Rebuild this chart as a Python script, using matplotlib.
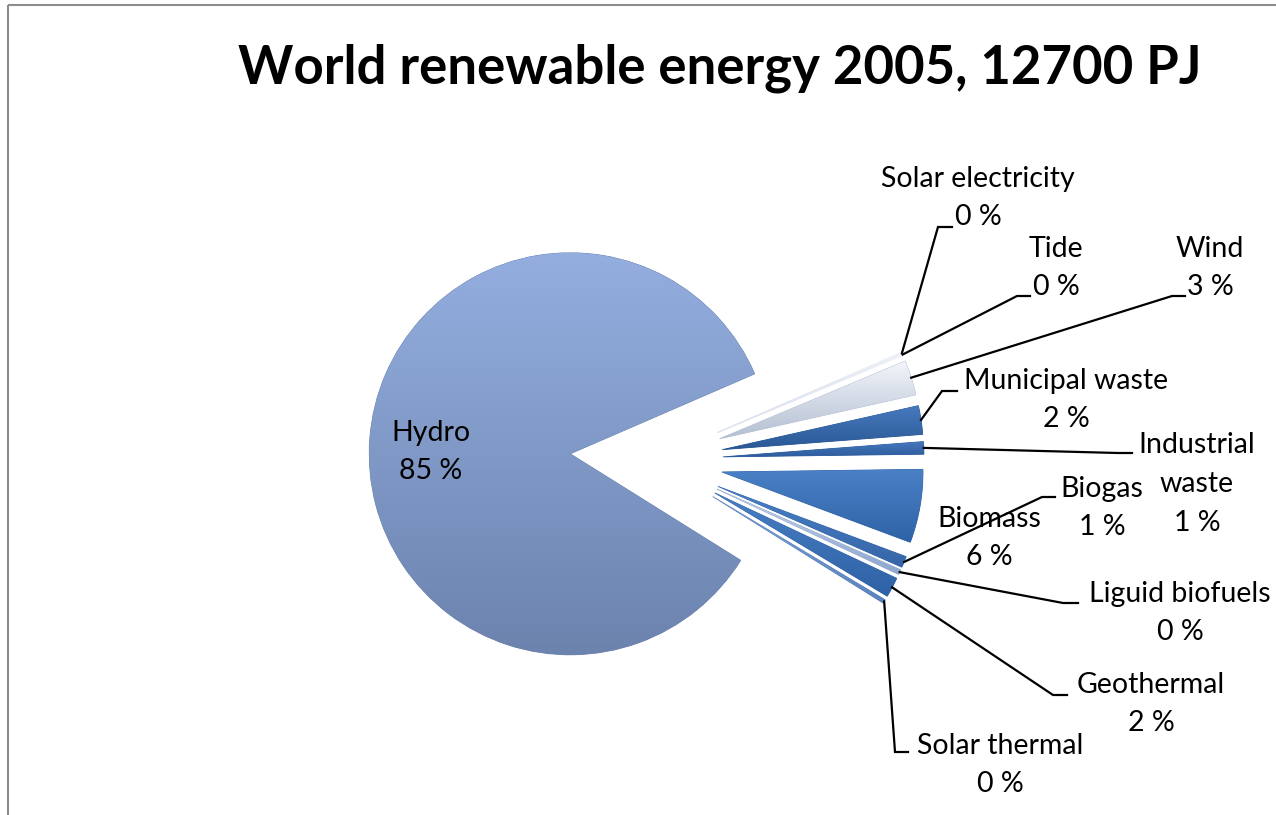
import numpy as np
import matplotlib.pyplot as plt
from matplotlib.patches import Rectangle
from matplotlib.colors import LinearSegmentedColormap

# ==================== Data ====================
categories = ["Hydro", "Solar electricity", "Tide", "Wind", "Municipal waste",
              "Industrial waste", "Biomass", "Biogas", "Liguid biofuels",
              "Geothermal", "Solar thermal"]
shares     = [84.6, 0.1, 0.1, 2.8, 2.3, 1.0, 5.9, 0.9, 0.4, 1.6, 0.3]   # % of 12700 PJ
pct_shown  = [85, 0, 0, 3, 2, 1, 6, 1, 0, 2, 0]
TITLE = "World renewable energy 2005, 12700 PJ"

# ==================== Style / layout ====================
W, H = 1276, 815                 # canvas in pixels, axes use image coords (y down)
CENTER = (653, 460)
RADIUS = 201
START = 32                       # y axis is inverted, so this is -32 deg on screen
EXPLODE = {"Hydro": 83}          # px, everything else uses EXPLODE_SMALL
EXPLODE_SMALL = 70
FONT = "Lato"
LABEL_SIZE = 20.5

colors = {
    "Hydro":             ("#93aedf", "#6c83ae"),
    "Solar electricity": ("#f4f6fa", "#dde3ee"),
    "Tide":              ("#f4f6fa", "#dde3ee"),
    "Wind":              ("#f2f5fa", "#b4bfd2"),
    "Municipal waste":   ("#4679be", "#2a5894"),
    "Industrial waste":  ("#4679be", "#2d5c9c"),
    "Biomass":           ("#4a80c6", "#2f63a7"),
    "Biogas":            ("#4a80c6", "#3566a8"),
    "Liguid biofuels":   ("#c5d4ea", "#8ea7cf"),
    "Geothermal":        ("#4a80c6", "#2e61a5"),
    "Solar thermal":     ("#7fa3d6", "#5b82bd"),
}

# label centres and leader elbows, in image pixels
label_pos = {
    "Hydro":             (431, 452),
    "Solar electricity": (978, 198),
    "Tide":              (1056, 268),
    "Wind":              (1210, 268),
    "Municipal waste":   (1066, 400),
    "Industrial waste":  (1197, 484),
    "Biomass":           (989, 538),
    "Biogas":            (1102, 508),
    "Liguid biofuels":   (1180, 613),
    "Geothermal":        (1151, 704),
    "Solar thermal":     (1000, 765),
}
leaders = {
    "Solar electricity": ((938, 227), (952, 227)),
    "Tide":              ((1017, 296), (1030, 296)),
    "Wind":              ((1172, 296), (1185, 296)),
    "Municipal waste":   ((942, 391), (957, 391)),
    "Industrial waste":  ((1118, 453), (1132, 453)),
    "Biogas":            ((1042, 497), (1055, 497)),
    "Liguid biofuels":   ((1063, 603), (1078, 603)),
    "Geothermal":        ((1053, 695), (1067, 695)),
    "Solar thermal":     ((895, 752), (908, 752)),
}
wrap = {"Industrial waste": "Industrial\nwaste"}
# =======================================================

fig = plt.figure(figsize=(W / 100, H / 100), dpi=100)
ax = fig.add_axes([0, 0, 1, 1])

explode = [EXPLODE.get(c, EXPLODE_SMALL) for c in categories]
wedges, _ = ax.pie(shares, explode=explode, center=CENTER, radius=RADIUS,
                   startangle=START, counterclock=True, frame=True)
ax.axis("off")


def shade(w, top, bottom):
    """vertical gradient fill clipped to the wedge"""
    w.set_facecolor(bottom)
    w.set_edgecolor(bottom)
    w.set_linewidth(0.6)
    bb = w.get_path().get_extents()
    cmap = LinearSegmentedColormap.from_list("g", [top, bottom])
    grad = np.linspace(0, 1, 200).reshape(-1, 1)
    im = ax.imshow(grad, cmap=cmap, aspect="auto", origin="upper",
                   extent=(bb.x0, bb.x1, bb.y1, bb.y0), zorder=w.get_zorder() + 0.1,
                   interpolation="bilinear")
    im.set_clip_path(w)


for w, name in zip(wedges, categories):
    shade(w, *colors[name])

# labels + leader lines
for w, name, p in zip(wedges, categories, pct_shown):
    tx, ty = label_pos[name]
    ax.text(tx, ty, f"{wrap.get(name, name)}\n{p} %", ha="center", va="center",
            fontsize=LABEL_SIZE, family=FONT, color="black", linespacing=1.6, zorder=5)
    if name in leaders:
        tm = np.deg2rad((w.theta1 + w.theta2) / 2)
        sx = w.center[0] + w.r * np.cos(tm)
        sy = w.center[1] + w.r * np.sin(tm)
        (ex, ey), (hx, hy) = leaders[name]
        ax.plot([sx, ex, hx], [sy, ey, hy], color="black", lw=1.6,
                solid_joinstyle="miter", zorder=4)

ax.text(720, 68, TITLE, ha="center", va="center", fontsize=38,
        fontweight="bold", family=FONT)

# chart frame (cropped on the right and bottom)
ax.add_patch(Rectangle((8, 5), W + 20, H + 20, fill=False, ec="#8c8c8c",
                       lw=1.5, clip_on=False, zorder=6))

ax.set_aspect("equal")
ax.set_xlim(0, W)
ax.set_ylim(H, 0)
fig.savefig("out.png", dpi=100)
